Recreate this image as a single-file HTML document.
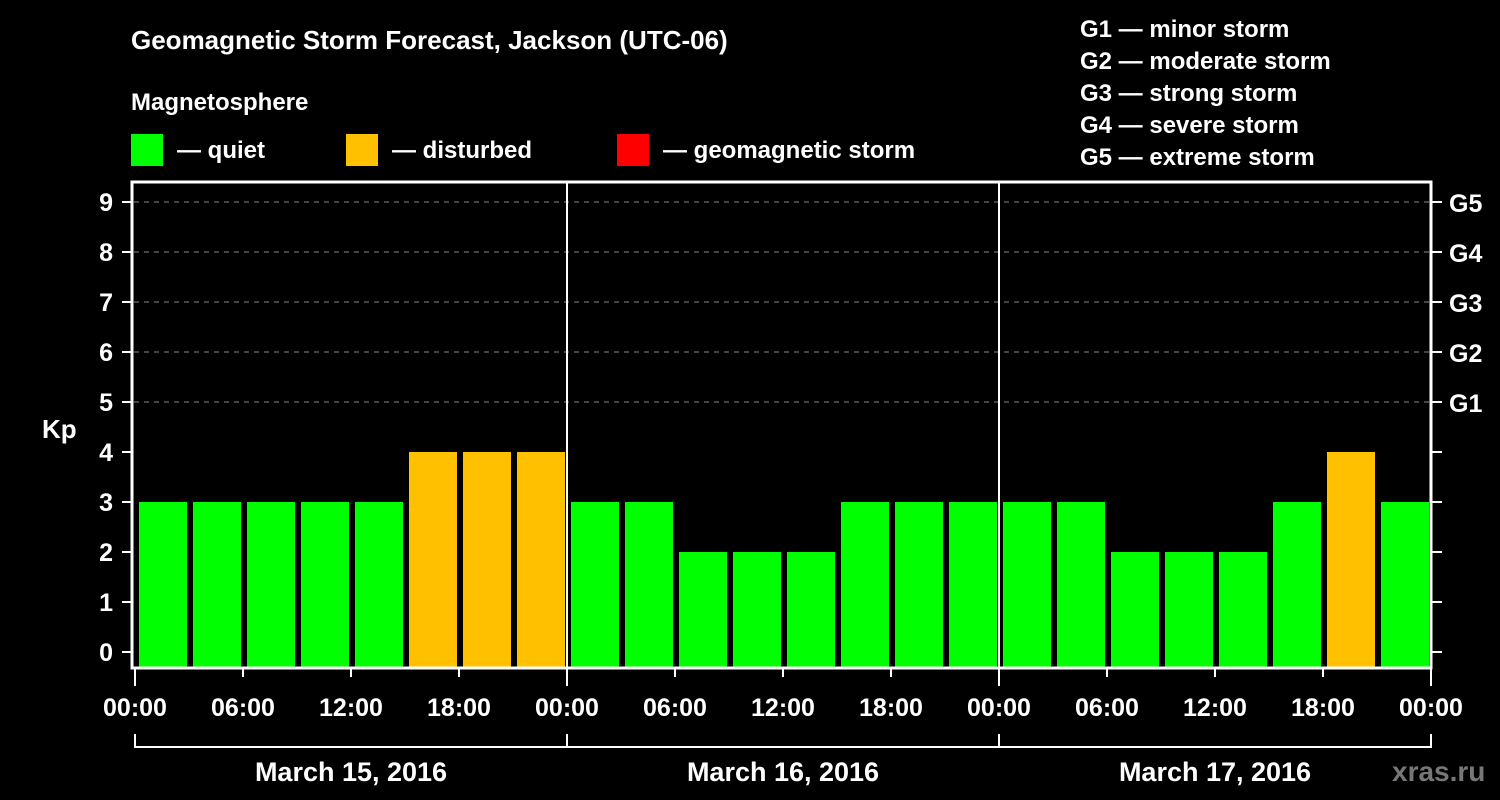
<!DOCTYPE html>
<html><head><meta charset="utf-8"><style>
body{margin:0;background:#000;width:1500px;height:800px;overflow:hidden}
svg{display:block;font-family:"Liberation Sans",sans-serif;font-weight:bold}
</style></head><body>
<svg id="c" width="1500" height="800">
<text x="131" y="49" fill="#fff" font-size="26">Geomagnetic Storm Forecast, Jackson (UTC-06)</text>
<text x="131" y="110" fill="#fff" font-size="24">Magnetosphere</text>
<rect x="131" y="134" width="32" height="32" fill="#00ff00"/>
<text x="177" y="158" fill="#fff" font-size="24">— quiet</text>
<rect x="346" y="134" width="32" height="32" fill="#ffc000"/>
<text x="392" y="158" fill="#fff" font-size="24">— disturbed</text>
<rect x="617" y="134" width="32" height="32" fill="#ff0000"/>
<text x="663" y="158" fill="#fff" font-size="24">— geomagnetic storm</text>
<g fill="#fff" font-size="24">
<text x="1080" y="37">G1 — minor storm</text>
<text x="1080" y="69">G2 — moderate storm</text>
<text x="1080" y="101">G3 — strong storm</text>
<text x="1080" y="133">G4 — severe storm</text>
<text x="1080" y="165">G5 — extreme storm</text>
</g>
<text x="42" y="438" fill="#fff" font-size="26">Kp</text>
<text x="1392" y="781" fill="#777" font-size="28">xras.ru</text>
<g id="grid"></g><g id="bars"></g><g id="axes"></g>
</svg>
<script>
const kpValues=[3,3,3,3,3,4,4,4, 3,3,2,2,2,3,3,3, 3,3,2,2,2,3,4,3];
const days=["March 15, 2016","March 16, 2016","March 17, 2016"];
const hourLabels=["00:00","06:00","12:00","18:00"];
const yTicks=[0,1,2,3,4,5,6,7,8,9];
const gLabels=["G1","G2","G3","G4","G5"];
const NS="http://www.w3.org/2000/svg";
const X0=134,X1=1430,yOf=k=>652-50*k,bw=(X1-X0)/kpValues.length;
function mk(t,a,p){const e=document.createElementNS(NS,t);for(const k in a)e.setAttribute(k,a[k]);p.appendChild(e);return e;}
const grid=document.getElementById('grid'),bars=document.getElementById('bars'),axes=document.getElementById('axes');
yTicks.forEach(k=>{
 if(k>=5){const l=mk('line',{x1:X0,x2:X1,y1:yOf(k),y2:yOf(k),stroke:'#888','stroke-width':1,'stroke-dasharray':'5,5'},grid);
 
 }
 mk('line',{x1:122,x2:131,y1:yOf(k),y2:yOf(k),stroke:'#fff','stroke-width':2},axes);
 mk('line',{x1:1432,x2:1442,y1:yOf(k),y2:yOf(k),stroke:'#fff','stroke-width':2},axes);
 const t=mk('text',{x:113,y:yOf(k)+9,fill:'#fff','font-size':25,'text-anchor':'end'},axes);t.textContent=k;
 
 
});
gLabels.forEach((g,i)=>{const t=mk('text',{x:1449,y:yOf(5+i)+10,fill:'#fff','font-size':25},axes);t.textContent=g;
 
 });
kpValues.forEach((v,i)=>{
 const c=v>=5?'#ff0000':v>=4?'#ffc000':'#00ff00';
 const r=mk('rect',{x:X0+i*bw+5,y:yOf(v),width:bw-6,height:667-yOf(v),fill:c},bars);
 
 
});
mk('rect',{x:132,y:182,width:1299,height:486,fill:'none',stroke:'#fff','stroke-width':3},axes);
const dw=(X1-X0)/days.length;
days.forEach((d,i)=>{
 const xs=X0+i*dw+1;
 if(i>0)mk('line',{x1:xs,x2:xs,y1:182,y2:668,stroke:'#fff','stroke-width':2},axes);
 const t=mk('text',{x:xs+dw/2,y:781,fill:'#fff','font-size':27,'text-anchor':'middle'},axes);t.textContent=d;
 
 
});
for(let i=0;i<=12;i++){
 const x=X0+1+i*dw/4;const day=i%4===0;
 mk('line',{x1:x,x2:x,y1:668,y2:day?686:677,stroke:'#fff','stroke-width':2},axes);
 const t=mk('text',{x:x,y:716,fill:'#fff','font-size':25,'text-anchor':'middle'},axes);t.textContent=hourLabels[i%4];
 
 
 if(day)mk('line',{x1:x,x2:x,y1:734,y2:748,stroke:'#fff','stroke-width':2},axes);
}
mk('line',{x1:X0+1,x2:X1+1,y1:747,y2:747,stroke:'#fff','stroke-width':2},axes);
</script>
</body></html>
